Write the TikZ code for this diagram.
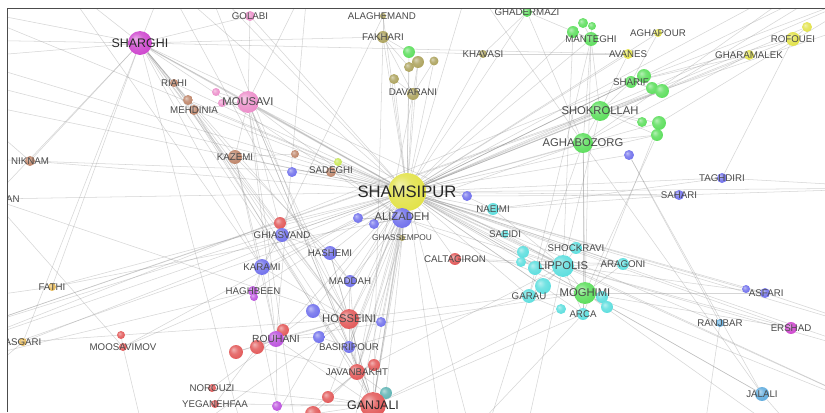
\documentclass[tikz,border=0pt]{standalone}
\usepackage{fontspec}
\setmainfont{Liberation Sans}

\definecolor{nyellow}{RGB}{226,226,72}
\definecolor{nmagenta}{RGB}{206,70,206}
\definecolor{npink}{RGB}{236,142,202}
\definecolor{nbrown}{RGB}{190,132,104}
\definecolor{nolive}{RGB}{172,162,92}
\definecolor{ngreen}{RGB}{92,222,92}
\definecolor{nblue}{RGB}{112,112,236}
\definecolor{nred}{RGB}{226,88,88}
\definecolor{npurple}{RGB}{188,82,222}
\definecolor{ncyan}{RGB}{92,222,222}
\definecolor{nteal}{RGB}{96,180,180}
\definecolor{nlblue}{RGB}{96,172,222}
\definecolor{norange}{RGB}{230,184,84}
\definecolor{nlime}{RGB}{200,232,84}
\definecolor{lblgray}{RGB}{74,74,74}
\definecolor{lbldark}{RGB}{40,40,40}

\colorlet{nodecol}{gray}
\pgfdeclareradialshading[nodecol]{sphere}{\pgfqpoint{-10bp}{10bp}}{%
  color(0bp)=(nodecol!45!white); color(14bp)=(nodecol!85!white);
  color(30bp)=(nodecol); color(50bp)=(nodecol!82!black)}

\pgfdeclarelayer{background}
\pgfsetlayers{background,main}

\tikzset{
  vtx/.style={circle, inner sep=0pt, draw=none, shading=sphere,
    /utils/exec={\colorlet{nodecol}{#1}}},
  rad/.style={minimum size=#1*1.7pt},
  link/.style={draw=black!45, draw opacity=.36, line width=.45pt},
  heavy/.style={link, line width=1pt},
  lbl/.style={inner sep=0pt, text=lblgray, font=\fontsize{8.3}{9}\selectfont},
  lblsm/.style={lbl, font=\fontsize{7.1}{8}\selectfont},
  lblmd/.style={lbl, font=\fontsize{9.6}{10}\selectfont},
  lblbg/.style={lbl, text=lbldark, font=\fontsize{10.6}{11}\selectfont},
  lblhub/.style={lbl, text=lbldark, font=\fontsize{14.2}{15}\selectfont},
  frame/.style={draw=black!70, line width=.8pt}
}

\begin{document}
\begin{tikzpicture}[x=0.03cm, y=-0.03cm]

\useasboundingbox (0,0) rectangle (825,412);

% points off the visible window
\coordinate (oL1) at (-40,8);
\coordinate (oL2) at (-40,40);
\coordinate (oL3) at (-40,58);
\coordinate (oL4) at (-40,78);
\coordinate (oL5) at (-40,100);
\coordinate (oL6) at (-40,158);
\coordinate (oL7) at (-40,300);
\coordinate (oL8) at (-40,332);
\coordinate (oL9) at (-40,346);
\coordinate (oL10) at (-40,362);
\coordinate (oL11) at (-40,395);
\coordinate (oT1) at (60,-20);
\coordinate (oT2) at (165,-20);
\coordinate (oT3) at (205,-20);
\coordinate (oT4) at (308,-20);
\coordinate (oT5) at (470,-20);
\coordinate (oTR1) at (860,-30);
\coordinate (oTR2) at (880,-12);
\coordinate (oTR3) at (840,-40);
\coordinate (oTR4) at (900,10);
\coordinate (oR1) at (900,188);
\coordinate (oR2) at (900,338);
\coordinate (oR3) at (900,362);
\coordinate (oR4) at (900,420);
\coordinate (oB1) at (150,460);
\coordinate (oB2) at (250,460);
\coordinate (oB3) at (300,460);
\coordinate (oB4) at (345,460);
\coordinate (oB5) at (445,460);
\coordinate (oB6) at (478,460);
\coordinate (oB7) at (520,460);
\coordinate (oB8) at (700,460);
\coordinate (oB9) at (820,460);

\begin{scope}
\clip (7,8) rectangle (825,412);

% upper left
\node[vtx=nmagenta, rad=12] (sharghi) at (140,43) {};
\node[vtx=npink, rad=5] (golabi) at (250,16) {};
\node[vtx=nbrown, rad=4] (riahi) at (174,83) {};
\node[vtx=npink, rad=4] (pk1) at (216,92) {};
\node[vtx=npink, rad=4] (pk2) at (222,103) {};
\node[vtx=nbrown, rad=5] (br1) at (188,100) {};
\node[vtx=nbrown, rad=5] (mehdinia) at (194,110) {};
\node[vtx=npink, rad=11] (mousavi) at (248,102) {};
\node[vtx=nbrown, rad=7] (kazemi) at (235,157) {};
\node[vtx=nbrown, rad=5] (niknam) at (30,161) {};
\node[vtx=nbrown, rad=4] (an) at (-8,199) {};
\node[vtx=nbrown, rad=4] (br2) at (295,154) {};
\node[vtx=nblue, rad=5] (bl1) at (292,172) {};
\node[vtx=nlime, rad=4] (lm1) at (338,162) {};
\node[vtx=nbrown, rad=5] (sadeghi) at (331,172) {};

% olive group
\node[vtx=nolive, rad=3] (alaghemand) at (383,16) {};
\node[vtx=nolive, rad=6] (fakhari) at (383,37) {};
\node[vtx=ngreen, rad=6] (gr1) at (409,52) {};
\node[vtx=nolive, rad=5] (ol1) at (409,67) {};
\node[vtx=nolive, rad=6] (ol2) at (418,62) {};
\node[vtx=nolive, rad=5] (ol3) at (394,79) {};
\node[vtx=nolive, rad=4.5] (ol4) at (434,61) {};
\node[vtx=nolive, rad=6] (davarani) at (413,94) {};
\node[vtx=nolive, rad=4] (khavasi) at (483,54) {};

% hub
\node[vtx=nyellow, rad=19] (shamsipur) at (407,192) {};
\node[vtx=nblue, rad=5] (bl2) at (467,196) {};
\node[vtx=nblue, rad=5] (bl3) at (358,218) {};
\node[vtx=nblue, rad=5] (bl4) at (374,224) {};
\node[vtx=nblue, rad=10] (alizadeh) at (402,218) {};
\node[vtx=nolive, rad=3] (ghassempou) at (402,238) {};
\node[vtx=ncyan, rad=6] (naeimi) at (493,209) {};

% green group
\node[vtx=ngreen, rad=5] (ghadermazi) at (527,12) {};
\node[vtx=ngreen, rad=5] (gm1) at (583,23) {};
\node[vtx=ngreen, rad=4] (gm2) at (592,26) {};
\node[vtx=ngreen, rad=6] (gm3) at (573,32) {};
\node[vtx=ngreen, rad=7] (manteghi) at (591,39) {};
\node[vtx=nyellow, rad=4] (aghapour) at (658,33) {};
\node[vtx=nyellow, rad=5] (avanes) at (628,54) {};
\node[vtx=nyellow, rad=5] (ye1) at (807,27) {};
\node[vtx=nyellow, rad=7] (rofouei) at (793,39) {};
\node[vtx=nyellow, rad=5] (gharamalek) at (749,55) {};
\node[vtx=ngreen, rad=7] (gs1) at (644,76) {};
\node[vtx=ngreen, rad=6] (sharif) at (631,82) {};
\node[vtx=ngreen, rad=6] (gs2) at (652,88) {};
\node[vtx=ngreen, rad=7] (gs3) at (662,91) {};
\node[vtx=ngreen, rad=10] (shokrollah) at (600,111) {};
\node[vtx=ngreen, rad=5] (gk1) at (642,122) {};
\node[vtx=ngreen, rad=7] (gk2) at (659,123) {};
\node[vtx=ngreen, rad=6] (gk3) at (657,135) {};
\node[vtx=ngreen, rad=10] (aghabozorg) at (583,143) {};
\node[vtx=nblue, rad=5] (bl8) at (629,155) {};
\node[vtx=nblue, rad=5] (taghdiri) at (722,178) {};
\node[vtx=nblue, rad=5] (sahari) at (679,195) {};

% cyan group
\node[vtx=ncyan, rad=4] (saeidi) at (505,234) {};
\node[vtx=nred, rad=6] (caltagiron) at (455,259) {};
\node[vtx=ncyan, rad=6] (cy1) at (523,252) {};
\node[vtx=ncyan, rad=5] (cy2) at (521,262) {};
\node[vtx=ncyan, rad=7] (cy3) at (535,268) {};
\node[vtx=ncyan, rad=6] (shockravi) at (576,248) {};
\node[vtx=ncyan, rad=11] (lippolis) at (563,266) {};
\node[vtx=ncyan, rad=6] (aragoni) at (623,264) {};
\node[vtx=ncyan, rad=8] (cy4) at (543,286) {};
\node[vtx=ncyan, rad=7] (garau) at (529,296) {};
\node[vtx=ncyan, rad=6] (cy5) at (602,297) {};
\node[vtx=ncyan, rad=6] (cy6) at (607,307) {};
\node[vtx=ncyan, rad=5] (cy7) at (561,309) {};
\node[vtx=ncyan, rad=6] (arca) at (583,314) {};
\node[vtx=ngreen, rad=11] (moghimi) at (585,293) {};
\node[vtx=nblue, rad=4] (bl9) at (746,289) {};
\node[vtx=nblue, rad=5] (asfari) at (765,293) {};
\node[vtx=nlblue, rad=4] (ranjbar) at (720,323) {};
\node[vtx=nmagenta, rad=6] (ershad) at (791,328) {};
\node[vtx=nlblue, rad=7] (jalali) at (762,394) {};

% lower left
\node[vtx=nred, rad=6] (rd1) at (280,223) {};
\node[vtx=nblue, rad=7] (ghiasvand) at (282,235) {};
\node[vtx=nblue, rad=7] (hashemi) at (330,253) {};
\node[vtx=nblue, rad=8] (karami) at (262,267) {};
\node[vtx=nblue, rad=6] (maddah) at (350,281) {};
\node[vtx=npurple, rad=5] (haghbeen) at (253,291) {};
\node[vtx=npurple, rad=4] (pu1) at (254,297) {};
\node[vtx=norange, rad=4] (fathi) at (52,287) {};
\node[vtx=nblue, rad=7] (bl5) at (313,311) {};
\node[vtx=nred, rad=10] (hosseini) at (349,319) {};
\node[vtx=nblue, rad=5] (bl6) at (381,322) {};
\node[vtx=norange, rad=4] (asgari) at (23,342) {};
\node[vtx=nred, rad=4] (rd6) at (121,335) {};
\node[vtx=nred, rad=4] (moosavimov) at (123,347) {};
\node[vtx=nred, rad=6] (rd2) at (283,330) {};
\node[vtx=nred, rad=7] (rd3) at (257,347) {};
\node[vtx=nred, rad=7] (rd4) at (236,352) {};
\node[vtx=npurple, rad=8] (rouhani) at (276,339) {};
\node[vtx=nblue, rad=6] (bl7) at (319,337) {};
\node[vtx=nblue, rad=6] (basiripour) at (349,347) {};
\node[vtx=nred, rad=6] (rd5) at (374,365) {};
\node[vtx=nred, rad=8] (javanbakht) at (357,372) {};
\node[vtx=nred, rad=4] (norouzi) at (212,388) {};
\node[vtx=nred, rad=4] (yeganehfaa) at (215,404) {};
\node[vtx=nteal, rad=6] (tl1) at (386,393) {};
\node[vtx=nred, rad=6] (rd7) at (328,397) {};
\node[vtx=npurple, rad=5] (pu2) at (277,406) {};
\node[vtx=nred, rad=8] (rd8) at (313,414) {};
\node[vtx=nred, rad=13] (ganjali) at (373,405) {};

% labels
\node[lblbg] at (sharghi) {SHARGHI};
\node[lbl] at (golabi) {GOLABI};
\node[lbl] at (riahi) {RIAHI};
\node[lbl] at (mehdinia) {MEHDINIA};
\node[lblmd] at (mousavi) {MOUSAVI};
\node[lbl] at (kazemi) {KAZEMI};
\node[lbl] at (niknam) {NIKNAM};
\node[lbl] (anlbl) at (13,199) {AN};
\node[lbl, yshift=2pt] at (sadeghi) {SADEGHI};
\node[lbl, xshift=-1pt] at (alaghemand) {ALAGHEMAND};
\node[lbl] at (fakhari) {FAKHARI};
\node[lbl, yshift=1.5pt] at (davarani) {DAVARANI};
\node[lbl] at (khavasi) {KHAVASI};
\node[lblhub] at (shamsipur) {SHAMSIPUR};
\node[lblmd, yshift=1.5pt] at (alizadeh) {ALIZADEH};
\node[lblsm] at (ghassempou) {GHASSEMPOU};
\node[lbl] at (naeimi) {NAEIMI};
\node[lbl] at (ghadermazi) {GHADERMAZI};
\node[lbl] at (manteghi) {MANTEGHI};
\node[lbl] at (aghapour) {AGHAPOUR};
\node[lbl] at (avanes) {AVANES};
\node[lbl] at (rofouei) {ROFOUEI};
\node[lbl] at (gharamalek) {GHARAMALEK};
\node[lbl] at (sharif) {SHARIF};
\node[lblmd] at (shokrollah) {SHOKROLLAH};
\node[lblmd] at (aghabozorg) {AGHABOZORG};
\node[lbl] at (taghdiri) {TAGHDIRI};
\node[lbl] at (sahari) {SAHARI};
\node[lbl] at (saeidi) {SAEIDI};
\node[lbl] at (caltagiron) {CALTAGIRON};
\node[lbl] at (shockravi) {SHOCKRAVI};
\node[lblmd] at (lippolis) {LIPPOLIS};
\node[lbl] at (aragoni) {ARAGONI};
\node[lbl] at (garau) {GARAU};
\node[lblmd] at (moghimi) {MOGHIMI};
\node[lbl] at (arca) {ARCA};
\node[lbl, xshift=1pt] at (asfari) {ASFARI};
\node[lbl] at (ranjbar) {RANJBAR};
\node[lbl] at (ershad) {ERSHAD};
\node[lbl] at (jalali) {JALALI};
\node[lbl] at (ghiasvand) {GHIASVAND};
\node[lbl] at (hashemi) {HASHEMI};
\node[lbl] at (karami) {KARAMI};
\node[lbl] at (maddah) {MADDAH};
\node[lbl] at (haghbeen) {HAGHBEEN};
\node[lbl] at (fathi) {FATHI};
\node[lblmd] at (hosseini) {HOSSEINI};
\node[lbl] at (asgari) {ASGARI};
\node[lbl] at (moosavimov) {MOOSAVIMOV};
\node[lblmd, font=\fontsize{8.8}{9}\selectfont] at (rouhani) {ROUHANI};
\node[lbl] at (basiripour) {BASIRIPOUR};
\node[lbl] at (javanbakht) {JAVANBAKHT};
\node[lbl] at (norouzi) {NOROUZI};
\node[lbl] at (yeganehfaa) {YEGANEHFAA};
\node[lblbg] at (ganjali) {GANJALI};
\end{scope}

\begin{pgfonlayer}{background}
\fill[white] (0,0) rectangle (825,412);
\begin{scope}
\clip (7,8) rectangle (825,412);

% links of the hub
\foreach \v in {kazemi, mehdinia, riahi, br1, br2, bl1, lm1, sadeghi, golabi,
    alaghemand, fakhari, gr1, ol1, ol2, ol3, ol4, davarani, khavasi, ghadermazi,
    gm3, manteghi, aghapour, avanes, sharif, gs1, gs3, shokrollah, gk2, gk3,
    aghabozorg, bl8, gharamalek, rofouei, ye1, taghdiri, sahari, bl2, naeimi,
    saeidi, caltagiron, shockravi, cy1, cy3, lippolis, aragoni, cy4, garau,
    moghimi, cy5, arca, bl9, asfari, ranjbar, ershad, jalali, bl3, bl4,
    ghassempou, hashemi, maddah, bl6, hosseini, basiripour, rd5, javanbakht,
    tl1, rd7, rd1, ghiasvand, karami, haghbeen, bl5, rouhani, niknam, an,
    fathi, asgari, moosavimov, oL1, oL3, oL4, oL5, oL8, oL9, oT2, oT3, oT5,
    oTR1, oTR2, oTR3, oR1, oR2, oR3, oR4, oB5, oB6, oB2}
  \draw[link] (shamsipur) -- (\v);
\draw[heavy] (shamsipur) -- (sharghi);
\draw[heavy] (shamsipur) -- (mousavi);
\draw[heavy] (shamsipur) -- (alizadeh);
\draw[heavy] (shamsipur) -- (ganjali);

% other links
\foreach \a/\b in {sharghi/oL1, sharghi/oL2, sharghi/oL3, sharghi/oT1,
    sharghi/oT2, sharghi/mousavi, sharghi/riahi, sharghi/mehdinia, sharghi/br1,
    sharghi/kazemi, sharghi/karami, sharghi/ghiasvand, sharghi/hosseini,
    sharghi/javanbakht, sharghi/an, sharghi/niknam, sharghi/asgari,
    sharghi/fathi, sharghi/golabi, sharghi/avanes, sharghi/alizadeh,
    sharghi/oB2, sharghi/naeimi,
    mousavi/golabi, mousavi/pk1, mousavi/pk2, mousavi/kazemi, mousavi/oT4,
    mousavi/hosseini, mousavi/rouhani, mousavi/ghiasvand, mousavi/basiripour,
    mousavi/alizadeh, mousavi/ganjali, mousavi/mehdinia, mousavi/oB3,
    mousavi/lippolis, niknam/oL6, niknam/sadeghi, niknam/oL5, an/oL6,
    an/moosavimov, an/hosseini, fathi/oL7, fathi/alizadeh, asgari/oL11,
    asgari/hosseini, moosavimov/haghbeen, moosavimov/rd6, moosavimov/oB1,
    kazemi/hashemi, kazemi/karami, kazemi/rouhani, kazemi/br2, riahi/javanbakht,
    mehdinia/basiripour, br1/ganjali, mehdinia/hosseini, riahi/maddah,
    shokrollah/oL8, sharif/oL9, aghabozorg/oL10, gs3/oL8,
    gs3/oTR1, sharif/oTR2, shokrollah/oTR4, aghabozorg/oTR3, gk2/oTR2,
    rofouei/sharif, rofouei/taghdiri, gharamalek/aghabozorg, gharamalek/sharif,
    ye1/rofouei, manteghi/gm1, manteghi/gm2, manteghi/gm3, manteghi/shokrollah,
    manteghi/aghabozorg, manteghi/moghimi, manteghi/garau, gm3/lippolis,
    manteghi/ghadermazi, ghadermazi/khavasi, ghadermazi/aghabozorg,
    sharif/gs1, sharif/gs2, sharif/gs3, sharif/shokrollah, shokrollah/gk1,
    shokrollah/gk2, shokrollah/gk3, shokrollah/aghabozorg, aghabozorg/gk3,
    aghabozorg/moghimi, aghabozorg/arca, aghabozorg/garau, aghabozorg/jalali,
    shokrollah/lippolis, gk3/moghimi, gk2/arca, avanes/shokrollah,
    aghapour/sharif, avanes/khavasi, bl8/ranjbar, bl8/jalali,
    fakhari/alaghemand, fakhari/davarani, fakhari/ol1, fakhari/gr1,
    davarani/ol3, davarani/ol2, ol4/davarani, gr1/khavasi, fakhari/ganjali,
    davarani/javanbakht, alaghemand/karami, fakhari/sharghi,
    lippolis/shockravi, lippolis/cy1, lippolis/cy2, lippolis/cy3, lippolis/cy4,
    lippolis/garau, lippolis/moghimi, lippolis/aragoni, lippolis/arca,
    moghimi/cy5, moghimi/cy6, moghimi/arca, moghimi/garau, garau/cy7,
    garau/cy4, saeidi/lippolis, naeimi/lippolis, caltagiron/lippolis,
    caltagiron/aragoni, aragoni/moghimi, shockravi/aragoni,
    lippolis/oR3, lippolis/oR4, moghimi/oR4, moghimi/oB9, asfari/lippolis,
    asfari/moghimi, bl9/asfari, ershad/moghimi, ershad/lippolis, jalali/moghimi,
    jalali/oB9, garau/oB6, arca/oB5, lippolis/oB7, garau/hosseini,
    moghimi/rouhani, lippolis/javanbakht, arca/ganjali, garau/basiripour,
    cy7/ganjali, naeimi/sahari, naeimi/taghdiri, taghdiri/oR1, sahari/oR1,
    bl2/sahari, asfari/oR2, ranjbar/oB8,
    alizadeh/bl3, alizadeh/bl4, alizadeh/ghassempou, alizadeh/hosseini,
    alizadeh/javanbakht, alizadeh/ganjali, alizadeh/maddah, alizadeh/basiripour,
    alizadeh/lippolis, alizadeh/moghimi, alizadeh/oB4, ghassempou/ganjali,
    ghassempou/javanbakht, ghiasvand/rd1, ghiasvand/karami, ghiasvand/hashemi,
    ghiasvand/hosseini, karami/haghbeen, karami/rouhani, karami/hosseini,
    karami/pu1, hashemi/maddah, hashemi/hosseini, hashemi/ganjali,
    maddah/hosseini, maddah/javanbakht, bl5/hosseini, bl5/rouhani, bl6/hosseini,
    hosseini/javanbakht, hosseini/ganjali, hosseini/basiripour, hosseini/rouhani,
    rouhani/rd2, rouhani/rd3, rouhani/rd4, rouhani/bl7, rouhani/ganjali,
    rouhani/pu2, rd4/hosseini, rd3/javanbakht, bl7/basiripour,
    basiripour/ganjali, basiripour/javanbakht, javanbakht/rd5, javanbakht/ganjali,
    javanbakht/rd7, rd7/ganjali, tl1/ganjali, tl1/javanbakht, norouzi/ganjali,
    norouzi/rouhani, yeganehfaa/ganjali, yeganehfaa/rd3, rd8/ganjali,
    rd8/javanbakht, pu2/ganjali, pu2/haghbeen, ganjali/oB3, ganjali/oB4,
    ganjali/oB5, javanbakht/oB2, hosseini/oB1, haghbeen/oL10, oT2/hosseini,
    oT3/ganjali, oT1/karami, oT4/rouhani, oT5/aghabozorg}
  \draw[link] (\a) -- (\b);
\end{scope}
\end{pgfonlayer}

% window frame
\draw[frame] (7,412) -- (7,8) -- (825,8);

\end{tikzpicture}
\end{document}
